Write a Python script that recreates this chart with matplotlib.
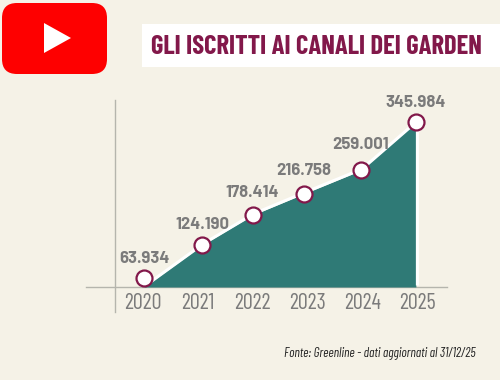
import matplotlib
matplotlib.use("Agg")
import matplotlib.pyplot as plt
from matplotlib.patches import FancyBboxPatch, Polygon, Rectangle
from matplotlib.transforms import offset_copy

# Data
years = [2020, 2021, 2022, 2023, 2024, 2025]
point_years = [2020.02, 2021.08, 2022.0, 2022.93, 2023.97, 2024.98]
subscribers = [63934, 124190, 178414, 216758, 259001, 345984]
value_labels = ["63.934", "124.190", "178.414", "216.758", "259.001", "345.984"]
title = "GLI ISCRITTI AI CANALI DEI GARDEN"
source = "Fonte: Greenline - dati aggiornati al 31/12/25"

BG = "#f5f2e7"
TEAL = "#2f7a76"
WINE = "#82184a"
GRAY = "#7b7b7b"
NARROW = ["Barlow Condensed", "Fira Sans Condensed", "Roboto", "DejaVu Sans"]
SEMI = ["Barlow", "Roboto", "DejaVu Sans"]

W, H = 500, 380
fig = plt.figure(figsize=(W / 100, H / 100), dpi=100, facecolor=BG)

bg = fig.add_axes([0, 0, 1, 1], zorder=0)
bg.set_xlim(0, W)
bg.set_ylim(H, 0)
bg.axis("off")

bg.add_patch(FancyBboxPatch((2, 3), 105, 71, boxstyle="round,pad=0,rounding_size=15",
                            fc="#fe0000", ec="none"))
bg.add_patch(Polygon([(44, 23), (71, 38), (44, 53)], closed=True, fc="white", ec="none"))
bg.add_patch(Rectangle((142, 24), 358, 43, fc="white", ec="none"))
bg.text(151, 46.5, title, family=NARROW, weight="bold", fontsize=19.2,
        color=WINE, va="center", ha="left")
bg.text(476, 353, source, family=NARROW, style="italic", fontsize=9.5,
        color="#222222", va="center", ha="right")
bg.plot([114.5, 114.5], [100, 312], color="#b5b5ad", lw=1)
bg.plot([86, 447], [287, 287], color="#b5b5ad", lw=1)

px_l, px_r, px_t, px_b = 86, 447, 100, 287
ax = fig.add_axes([px_l / W, 1 - px_b / H, (px_r - px_l) / W, (px_b - px_t) / H],
                  zorder=1)
ax.patch.set_alpha(0)
ax.set_xlim(2020 + (px_l - 143) / 54.8, 2020 + (px_r - 143) / 54.8)
ymin, ymax = 48300, 386500
ax.set_ylim(ymin, ymax)
for s in ax.spines.values():
    s.set_visible(False)
ax.set_yticks([])
ax.set_xticks(years)
ax.set_xticklabels(years, family=NARROW, fontsize=16, color=GRAY)
ax.tick_params(axis="x", length=0, pad=4)

area = [ymin] + subscribers[1:]
ax.fill_between(point_years, ymin, area, color=TEAL, lw=0, zorder=2)
edge = offset_copy(ax.transData, fig=fig, x=1.5, y=1.5, units="dots")
ax.plot(point_years + [point_years[-1]], area + [ymin], color="white", lw=2.2,
        zorder=3, solid_joinstyle="round", solid_capstyle="butt", clip_on=False,
        transform=edge)
ax.plot(point_years, subscribers, ls="none", marker="o", ms=11.5, mfc="white",
        mec=WINE, mew=1.6, zorder=4, clip_on=False)
offsets = [14, 14.5, 16.5, 16.5, 19, 14]
for x, v, lab, off in zip(point_years, subscribers, value_labels, offsets):
    ax.annotate(lab, (x, v), xytext=(0, off), textcoords="offset points",
                ha="center", va="center", family=SEMI, weight="bold",
                fontsize=12, color=GRAY, zorder=5)

fig.savefig("out.png", dpi=100, facecolor=BG)
